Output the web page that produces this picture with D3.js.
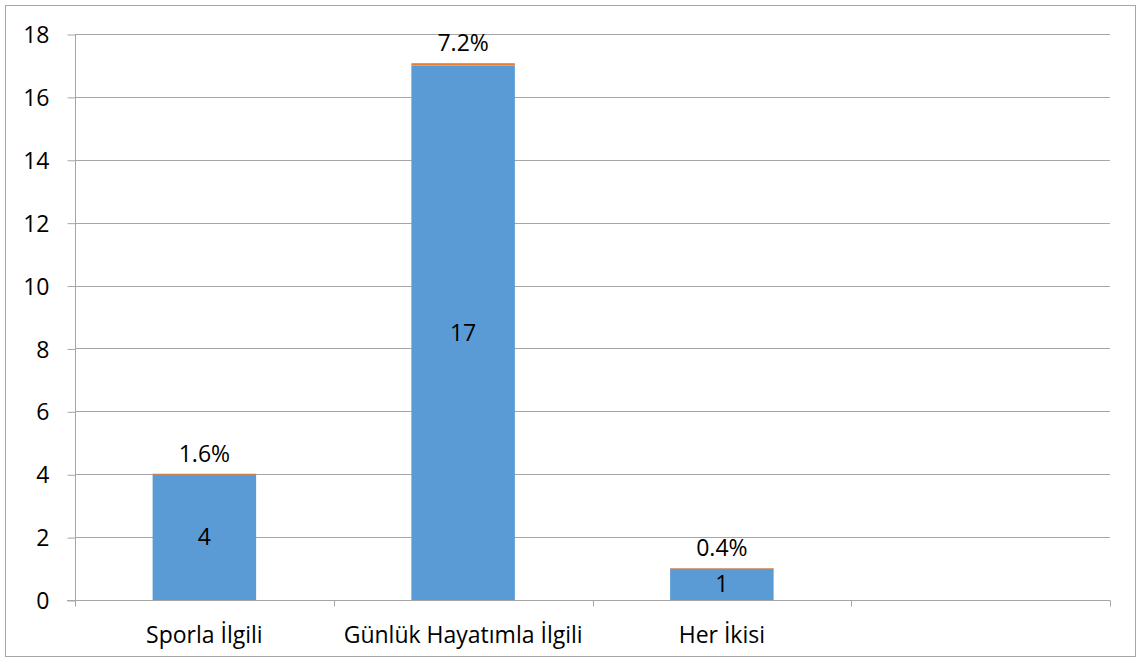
<!DOCTYPE html>
<html><head><meta charset="utf-8">
<script src="https://cdn.jsdelivr.net/npm/d3@7"></script>
<style>body{margin:0;background:#fff}svg{display:block}text{font-family:"Open Sans","Liberation Sans",sans-serif}</style>
</head><body><svg id="c" width="1140" height="661"></svg>
<script>
const categories = ["Sporla İlgili", "Günlük Hayatımla İlgili", "Her İkisi", ""];
const counts = [4, 17, 1, null];
const shares = [0.016, 0.072, 0.004, null];
const shareLabels = ["1.6%", "7.2%", "0.4%", ""];
const yTicks = [0, 2, 4, 6, 8, 10, 12, 14, 16, 18];
const FONT = '"Open Sans","Liberation Sans",sans-serif';
const FS = 23;

const svg = d3.select("#c");
svg.append("rect").attr("x",5.5).attr("y",5.5).attr("width",1130).attr("height",651)
  .attr("fill","#fff").attr("stroke","#a6a6a6");
const L=75, R=1110, T=34, B=600;
const x = d3.scaleBand().domain(d3.range(categories.length)).range([L,R]).paddingInner(0.6).paddingOuter(0.3);
const xs = d3.scaleBand().domain(d3.range(categories.length)).range([L,R]);
const y = d3.scaleLinear().domain([0,18]).range([B,T]);

svg.append("g").selectAll("line").data(yTicks.filter(d=>d>0)).join("line")
  .attr("x1",L).attr("x2",R).attr("y1",d=>Math.round(y(d))+0.5).attr("y2",d=>Math.round(y(d))+0.5)
  .attr("stroke","#a6a6a6").attr("stroke-width",1);

const data = categories.map((c,i)=>({i,c,v:counts[i],s:shares[i],sl:shareLabels[i]})).filter(d=>d.v!=null);
const g = svg.append("g");
g.selectAll("rect.b").data(data).join("rect").attr("class","b")
  .attr("x",d=>x(d.i)).attr("width",x.bandwidth())
  .attr("y",d=>y(d.v)).attr("height",d=>y(0)-y(d.v)).attr("fill","#5b9bd5");
g.selectAll("rect.o").data(data).join("rect").attr("class","o")
  .attr("x",d=>x(d.i)).attr("width",x.bandwidth())
  .attr("y",d=>y(d.v+d.s)).attr("height",d=>Math.max(1,y(d.v)-y(d.v+d.s))).attr("fill","#ed7d31");

const ya = d3.axisLeft(y).tickValues(yTicks).tickSize(8).tickFormat(d3.format("d"));
const yg = svg.append("g").attr("transform",`translate(${L+0.5},0.5)`).call(ya);
yg.select(".domain").attr("stroke","#a6a6a6").attr("d",`M0,${T}V${B}`);
yg.selectAll(".tick line").attr("stroke","#a6a6a6");
yg.selectAll(".tick text").attr("font-size",FS).attr("fill","#000").attr("x",-26).attr("dy","0.35em")
  .style("font-family",FONT);

const xa = d3.axisBottom(xs).tickSize(0).tickFormat(i=>categories[i]);
const xg = svg.append("g").attr("transform",`translate(0,${B+0.5})`).call(xa);
xg.select(".domain").attr("stroke","#a6a6a6").attr("d",`M${L-8},0H${R}`);
xg.selectAll(".tick text").attr("font-size",FS).attr("fill","#000").attr("y",42).attr("dy","0")
  .style("font-family",FONT);
xg.append("g").selectAll("line").data(d3.range(categories.length+1)).join("line")
  .attr("x1",i=>Math.round(L+i*xs.step())+0.5).attr("x2",i=>Math.round(L+i*xs.step())+0.5)
  .attr("y1",0).attr("y2",6).attr("stroke","#a6a6a6");

g.selectAll("text.v").data(data).join("text").attr("class","v")
  .attr("x",d=>x(d.i)+x.bandwidth()/2).attr("y",d=>(y(d.v)+y(0))/2).attr("dy","0.35em")
  .attr("text-anchor","middle").attr("font-size",FS).attr("fill","#000").style("font-family",FONT).text(d=>d.v);
g.selectAll("text.s").data(data).join("text").attr("class","s")
  .attr("x",d=>x(d.i)+x.bandwidth()/2).attr("y",d=>y(d.v+d.s)-12)
  .attr("text-anchor","middle").attr("font-size",FS).attr("fill","#000").style("font-family",FONT).text(d=>d.sl);
</script></body></html>
